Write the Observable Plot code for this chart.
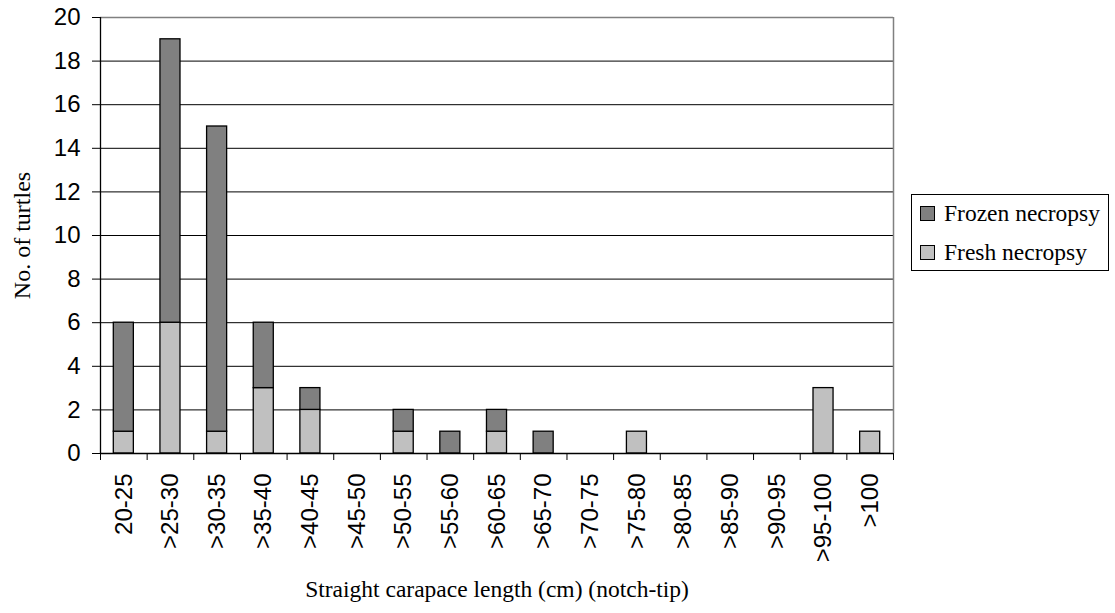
<!DOCTYPE html>
<html>
<head>
<meta charset="utf-8">
<script src="https://cdn.jsdelivr.net/npm/d3@7"></script>
<script src="https://cdn.jsdelivr.net/npm/@observablehq/plot@0.6"></script>
<style>
  html, body { margin: 0; padding: 0; background: #fff; }
  #wrap { position: relative; width: 1115px; height: 613px; }
  #legend {
    position: absolute; left: 911px; top: 194px; width: 198px; height: 77px;
    border: 1px solid #000; box-sizing: border-box; background: #fff;
    font-family: "Liberation Serif", "Times New Roman", serif; font-size: 23.5px; color: #000;
  }
  .item { position: absolute; left: 8px; display: flex; align-items: center; white-space: nowrap; }
  .sw { width: 13px; height: 13px; border: 1px solid #000; margin-right: 9px; }
</style>
</head>
<body>
<div id="wrap">
  <div id="chart"></div>
  <div id="legend"></div>
</div>
<script>
const categories = ["20-25", ">25-30", ">30-35", ">35-40", ">40-45", ">45-50", ">50-55", ">55-60",
  ">60-65", ">65-70", ">70-75", ">75-80", ">80-85", ">85-90", ">90-95", ">95-100", ">100"];
const fresh  = [1, 6, 1, 3, 2, 0, 1, 0, 1, 0, 0, 1, 0, 0, 0, 3, 1];
const frozen = [5, 13, 14, 3, 1, 0, 1, 1, 1, 1, 0, 0, 0, 0, 0, 0, 0];
const yTicks = [0, 2, 4, 6, 8, 10, 12, 14, 16, 18, 20];
const seriesNames = ["Frozen necropsy", "Fresh necropsy"];
const seriesColors = ["#808080", "#c0c0c0"];

const rows = [];
categories.forEach((c, i) => {
  if (fresh[i] > 0) rows.push({i, cat: c, series: "Fresh necropsy", y1: 0, y2: fresh[i]});
  if (frozen[i] > 0) rows.push({i, cat: c, series: "Frozen necropsy", y1: fresh[i], y2: fresh[i] + frozen[i]});
});
const idx = categories.map((c, i) => ({i, cat: c}));
const serif = "Liberation Serif, Times New Roman, serif";
const sans = "Liberation Sans, Arial, sans-serif";

const chart = Plot.plot({
  width: 1115,
  height: 613,
  marginLeft: 100,
  marginRight: 222,
  marginTop: 17,
  marginBottom: 160,
  style: {fontFamily: sans, fontSize: "24px", color: "#000", background: "#fff"},
  x: {type: "linear", domain: [0, categories.length]},
  y: {domain: [0, 20]},
  color: {domain: seriesNames, range: seriesColors},
  marks: [
    Plot.ruleY(yTicks.filter(d => d > 0 && d < 20), {stroke: "#000", strokeWidth: 1}),
    Plot.ruleY([20], {stroke: "#808080", strokeWidth: 1.5}),
    Plot.ruleX([categories.length], {stroke: "#808080", strokeWidth: 1.5}),
    Plot.rect(rows, {
      x1: d => d.i, x2: d => d.i + 1, y1: "y1", y2: "y2",
      fill: "series", stroke: "#000", strokeWidth: 1.3,
      insetLeft: 13.3, insetRight: 13.3
    }),
    Plot.ruleX([0], {stroke: "#000", strokeWidth: 1.3}),
    Plot.ruleY([0], {stroke: "#000", strokeWidth: 1.3}),
    Plot.axisY({ticks: yTicks, tickSize: 8, tickPadding: 12, fontSize: 24, fontFamily: sans, label: null}),
    Plot.axisX({ticks: d3.range(0, categories.length + 1), tickSize: 7, tickFormat: () => "", label: null}),
    Plot.text(idx, {
      x: d => d.i + 0.5, text: "cat", frameAnchor: "bottom", rotate: -90,
      textAnchor: "end", lineAnchor: "middle", dy: 20, fontSize: 24, fontFamily: sans, fill: "#000"
    }),
    Plot.text(["No. of turtles"], {
      frameAnchor: "left", rotate: -90, textAnchor: "middle", lineAnchor: "middle",
      dx: -78, fontSize: 24, fontFamily: serif, fill: "#000"
    }),
    Plot.text(["Straight carapace length (cm) (notch-tip)"], {
      frameAnchor: "bottom", dy: 143, fontSize: 23.5, fontFamily: serif, fill: "#000"
    })
  ]
});
document.getElementById("chart").appendChild(chart);

const legend = document.getElementById("legend");
seriesNames.forEach((name, k) => {
  const it = document.createElement("div");
  it.className = "item";
  it.style.top = (k === 0 ? 5 : 44) + "px";
  const sw = document.createElement("div");
  sw.className = "sw";
  sw.style.background = seriesColors[k];
  it.appendChild(sw);
  const t = document.createElement("span");
  t.textContent = name;
  it.appendChild(t);
  legend.appendChild(it);
});
</script>
</body>
</html>
